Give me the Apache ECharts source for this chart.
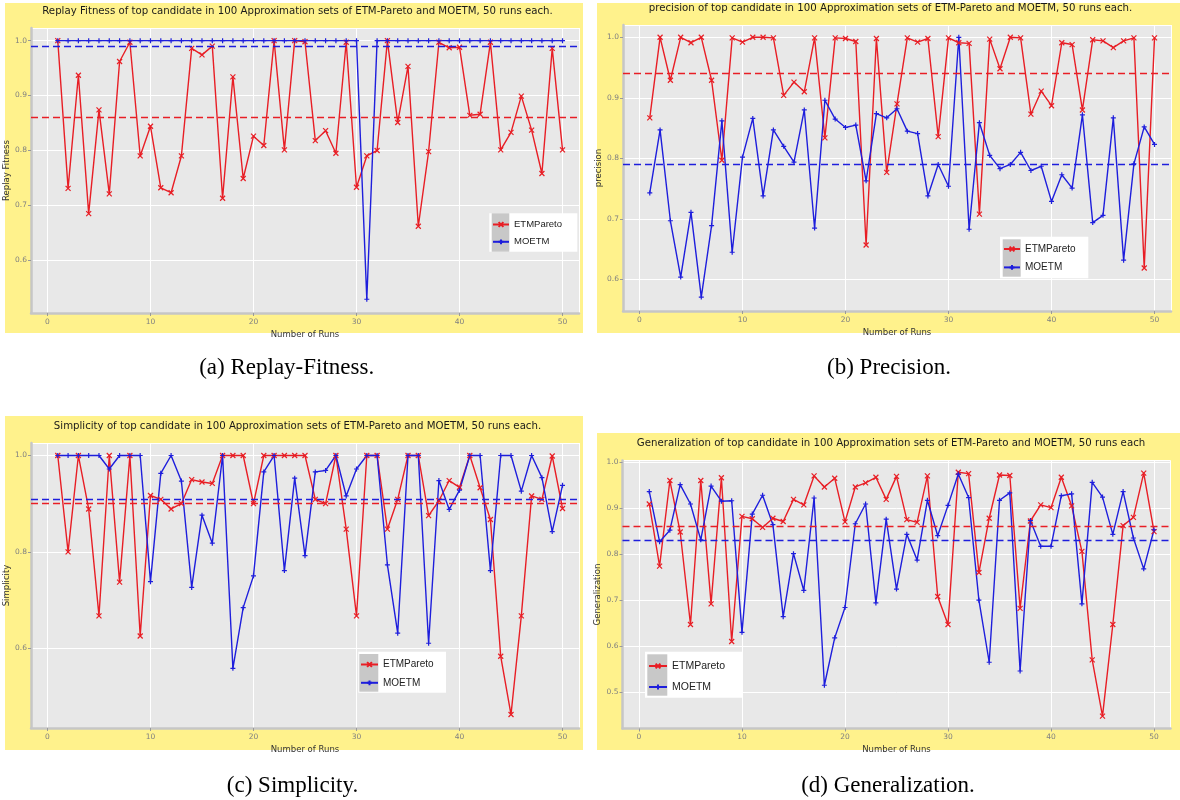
<!DOCTYPE html>
<html><head><meta charset="utf-8">
<script src="https://cdn.jsdelivr.net/npm/echarts@6/dist/echarts.min.js"></script>
<style>html,body{margin:0;padding:0;background:#fff}#chart{width:1180px;height:800px}</style>
</head><body><div id="chart"></div>
<script>
// ---------------- data ----------------
const runs = [1,2,3,4,5,6,7,8,9,10,11,12,13,14,15,16,17,18,19,20,21,22,23,24,25,26,27,28,29,30,31,32,33,34,35,36,37,38,39,40,41,42,43,44,45,46,47,48,49,50];
const seriesNames = ['ETMPareto', 'MOETM'];
const panelTitles = [
  'Replay Fitness of top candidate in 100 Approximation sets of ETM-Pareto and MOETM, 50 runs each.',
  'precision of top candidate in 100 Approximation sets of ETM-Pareto and MOETM, 50 runs each.',
  'Simplicity of top candidate in 100 Approximation sets of ETM-Pareto and MOETM, 50 runs each.',
  'Generalization of top candidate in 100 Approximation sets of ETM-Pareto and MOETM, 50 runs each'
];
const captions = ['(a) Replay-Fitness.', '(b) Precision.', '(c) Simplicity.', '(d) Generalization.'];
const yAxisNames = ['Replay Fitness', 'precision', 'Simplicity', 'Generalization'];
const xAxisName = 'Number of Runs';

const etmFitness = [1.0,0.731,0.937,0.685,0.874,0.721,0.962,0.997,0.790,0.844,
  0.732,0.723,0.790,0.986,0.974,0.990,0.713,0.934,0.749,0.826,
  0.809,1.0,0.801,1.0,0.998,0.818,0.836,0.795,0.997,0.733,
  0.790,0.800,1.0,0.851,0.953,0.662,0.798,0.997,0.987,0.988,
  0.864,0.866,0.997,0.801,0.833,0.899,0.837,0.758,0.986,0.801];
const moetmFitness = [1.0,1.0,1.0,1.0,1.0,1.0,1.0,1.0,1.0,1.0,
  1.0,1.0,1.0,1.0,1.0,1.0,1.0,1.0,1.0,1.0,
  1.0,1.0,1.0,1.0,1.0,1.0,1.0,1.0,1.0,1.0,
  0.529,1.0,1.0,1.0,1.0,1.0,1.0,1.0,1.0,1.0,
  1.0,1.0,1.0,1.0,1.0,1.0,1.0,1.0,1.0,1.0];
const etmPrecision = [0.867,1.0,0.929,1.0,0.991,1.0,0.929,0.797,0.999,0.992,
  1.0,1.0,0.999,0.904,0.926,0.910,0.999,0.834,0.999,0.998,
  0.993,0.657,0.998,0.777,0.890,0.999,0.992,0.998,0.836,0.999,
  0.991,0.990,0.708,0.997,0.948,1.0,0.999,0.873,0.911,0.887,
  0.991,0.988,0.880,0.996,0.994,0.983,0.994,0.999,0.619,0.999];
const moetmPrecision = [0.743,0.847,0.697,0.604,0.711,0.571,0.689,0.862,0.645,0.802,
  0.866,0.738,0.847,0.820,0.794,0.880,0.685,0.896,0.865,0.851,
  0.855,0.763,0.874,0.867,0.882,0.845,0.841,0.738,0.790,0.754,
  1.0,0.683,0.859,0.805,0.783,0.790,0.810,0.780,0.787,0.729,
  0.773,0.751,0.872,0.694,0.706,0.867,0.632,0.791,0.852,0.823];
const etmSimplicity = [1.0,0.80,1.0,0.889,0.667,1.0,0.737,1.0,0.625,0.917,
  0.909,0.889,0.900,0.950,0.945,0.942,1.0,1.0,1.0,0.900,
  1.0,1.0,1.0,1.0,1.0,0.909,0.900,1.0,0.847,0.667,
  1.0,1.0,0.847,0.909,1.0,1.0,0.875,0.906,0.948,0.934,
  1.0,0.933,0.867,0.583,0.462,0.667,0.916,0.909,0.999,0.890];
const moetmSimplicity = [1.0,1.0,1.0,1.0,1.0,0.972,1.0,1.0,1.0,0.738,
  0.963,1.0,0.947,0.726,0.876,0.818,1.0,0.558,0.684,0.750,
  0.966,1.0,0.761,0.953,0.792,0.966,0.969,1.0,0.916,0.972,
  1.0,1.0,0.773,0.631,1.0,1.0,0.610,0.948,0.888,0.928,
  1.0,1.0,0.761,1.0,1.0,0.926,1.0,0.954,0.842,0.938];
const etmGeneralization = [0.909,0.774,0.960,0.848,0.647,0.960,0.692,0.966,0.610,0.882,
  0.877,0.858,0.878,0.871,0.919,0.907,0.970,0.946,0.965,0.870,
  0.946,0.955,0.967,0.919,0.969,0.875,0.869,0.970,0.708,0.647,
  0.978,0.975,0.760,0.878,0.972,0.971,0.682,0.872,0.907,0.901,
  0.967,0.905,0.806,0.570,0.448,0.647,0.862,0.880,0.976,0.849];
const moetmGeneralization = [0.936,0.827,0.852,0.951,0.909,0.831,0.948,0.915,0.916,0.630,
  0.887,0.928,0.864,0.664,0.801,0.721,0.922,0.515,0.618,0.684,
  0.866,0.909,0.694,0.876,0.724,0.843,0.787,0.917,0.840,0.906,
  0.974,0.923,0.700,0.565,0.917,0.933,0.546,0.873,0.817,0.817,
  0.927,0.931,0.692,0.956,0.924,0.843,0.936,0.835,0.768,0.853];
const etmMeans = [0.864, 0.939, 0.900, 0.858];
const moetmMeans = [0.991, 0.788, 0.910, 0.828];

const etmSets = [etmFitness, etmPrecision, etmSimplicity, etmGeneralization];
const moetmSets = [moetmFitness, moetmPrecision, moetmSimplicity, moetmGeneralization];

// ---------------- layout / style ----------------
const RED = '#E81E25', BLUE = '#1E1EDC';
const YELLOW = '#FFF28C', PLOT_BG = '#E8E8E8';
const layout = [
  {grid:{left:31,top:28,width:548,height:285}, ymin:0.504, ymax:1.023, split:5,
   bg:[5,3,578,330], title:[297.5,6], caption:[286.7,356],
   legend:{left:492,top:219.5,gap:7.3,iw:16,fs:9.5}, lbox:[489.3,213.3,88,38.4], lkey:[491.7,213.3,17.6,38.4]},
  {grid:{left:623,top:25,width:548,height:286}, ymin:0.548, ymax:1.0203, split:5,
   bg:[597,3,583,330], title:[890.5,3], caption:[889,356],
   legend:{left:1003,top:244,gap:8.4,iw:16,fs:10}, lbox:[1000,236.7,88.3,41.6], lkey:[1002.7,239.3,18,37.4]},
  {grid:{left:31,top:443,width:548,height:285}, ymin:0.434, ymax:1.026, split:3,
   bg:[5,416,578,334], title:[297.5,421], caption:[292.5,774],
   legend:{left:360,top:659.5,gap:8.3,iw:17,fs:10}, lbox:[358.3,651.7,87.7,41], lkey:[359.3,654,19,37.7]},
  {grid:{left:622.5,top:460.5,width:548,height:268}, ymin:0.421, ymax:1.0035, split:5,
   bg:[597,433,583,317], title:[891,438], caption:[888,774],
   legend:{left:648,top:660.5,gap:10,iw:18,fs:10.5}, lbox:[645,651.7,97.7,46], lkey:[647.3,654.3,20,41.4]}
];
const crossX = 'path://M0,0L10,10M10,0L0,10';
const crossPlus = 'path://M5,0L5,10M0,5L10,5';

const grids = [], xAxes = [], yAxes = [], series = [], titles = [], legends = [], graphics = [];
layout.forEach((L, i) => {
  grids.push(Object.assign({show:true, backgroundColor:PLOT_BG, borderWidth:0, containLabel:false}, L.grid));
  xAxes.push({
    type:'value', gridIndex:i, min:-1.6, max:51.6, splitNumber:5,
    name:xAxisName, nameLocation:'middle', nameGap:17,
    nameTextStyle:{fontFamily:'DejaVu Sans', fontSize:8.5, color:'#333'},
    axisLine:{show:true, onZero:false, lineStyle:{color:'#C6C6C6', width:2.5}},
    axisTick:{show:true, length:3, lineStyle:{color:'#999'}},
    axisLabel:{showMinLabel:false, showMaxLabel:false, fontFamily:'DejaVu Sans', fontSize:7.5, color:'#808080', margin:5},
    splitLine:{show:true, lineStyle:{color:'#FFFFFF', width:1}}
  });
  yAxes.push({
    type:'value', gridIndex:i, min:L.ymin, max:L.ymax, splitNumber:L.split,
    name:yAxisNames[i], nameLocation:'middle', nameGap:20,
    nameTextStyle:{fontFamily:'DejaVu Sans', fontSize:8.5, color:'#333'},
    axisLine:{show:true, onZero:false, lineStyle:{color:'#C6C6C6', width:2.5}},
    axisTick:{show:true, length:3, lineStyle:{color:'#999'}},
    axisLabel:{showMinLabel:false, showMaxLabel:false, fontFamily:'DejaVu Sans', fontSize:7.5, color:'#808080', margin:4,
      formatter: v => v.toFixed(1)},
    splitLine:{show:true, lineStyle:{color:'#FFFFFF', width:1}}
  });
  const mk = (name, arr, mean, color, sym) => ({
    type:'line', name, xAxisIndex:i, yAxisIndex:i,
    data: runs.map((r, k) => [r, arr[k]]),
    symbol: sym, symbolSize:5, showSymbol:true,
    lineStyle:{color, width:1.4},
    itemStyle:{color, borderColor:color, borderWidth:1.2},
    emphasis:{disabled:true},
    markLine:{silent:true, symbol:'none', label:{show:false},
      lineStyle:{color, type:[7,4], width:1.3}, data:[{yAxis:mean}]}
  });
  series.push(mk(seriesNames[0], etmSets[i], etmMeans[i], RED, crossX));
  series.push(mk(seriesNames[1], moetmSets[i], moetmMeans[i], BLUE, crossPlus));
  titles.push({text:panelTitles[i], left:L.title[0], top:L.title[1], textAlign:'center', padding:0,
    textStyle:{fontFamily:'DejaVu Sans', fontSize:10.2, fontWeight:'normal', color:'#1a1a1a'}});
  titles.push({text:captions[i], left:L.caption[0], top:L.caption[1], textAlign:'center', padding:0,
    textStyle:{fontFamily:'Liberation Serif', fontSize:23, fontWeight:'normal', color:'#000'}});
  legends.push({data:seriesNames, orient:'vertical', left:L.legend.left, top:L.legend.top, padding:0,
    itemGap:L.legend.gap, itemWidth:L.legend.iw, itemHeight:6, selectedMode:false, z:20,
    textStyle:{fontFamily:'Liberation Sans', fontSize:L.legend.fs, color:'#222'}});
  graphics.push({type:'rect', z:-10, silent:true, shape:{x:L.bg[0], y:L.bg[1], width:L.bg[2], height:L.bg[3]}, style:{fill:YELLOW}});
  graphics.push({type:'rect', z:15, silent:true, shape:{x:L.lbox[0], y:L.lbox[1], width:L.lbox[2], height:L.lbox[3]}, style:{fill:'#FFFFFF'}});
  graphics.push({type:'rect', z:16, silent:true, shape:{x:L.lkey[0], y:L.lkey[1], width:L.lkey[2], height:L.lkey[3]}, style:{fill:'#C8C8C8'}});
});

const chart = echarts.init(document.getElementById('chart'), null, {renderer:'canvas'});
chart.setOption({
  animation:false,
  backgroundColor:'#FFFFFF',
  title:titles, legend:legends, grid:grids, xAxis:xAxes, yAxis:yAxes, series,
  graphic:{elements:graphics}
});
</script></body></html>
